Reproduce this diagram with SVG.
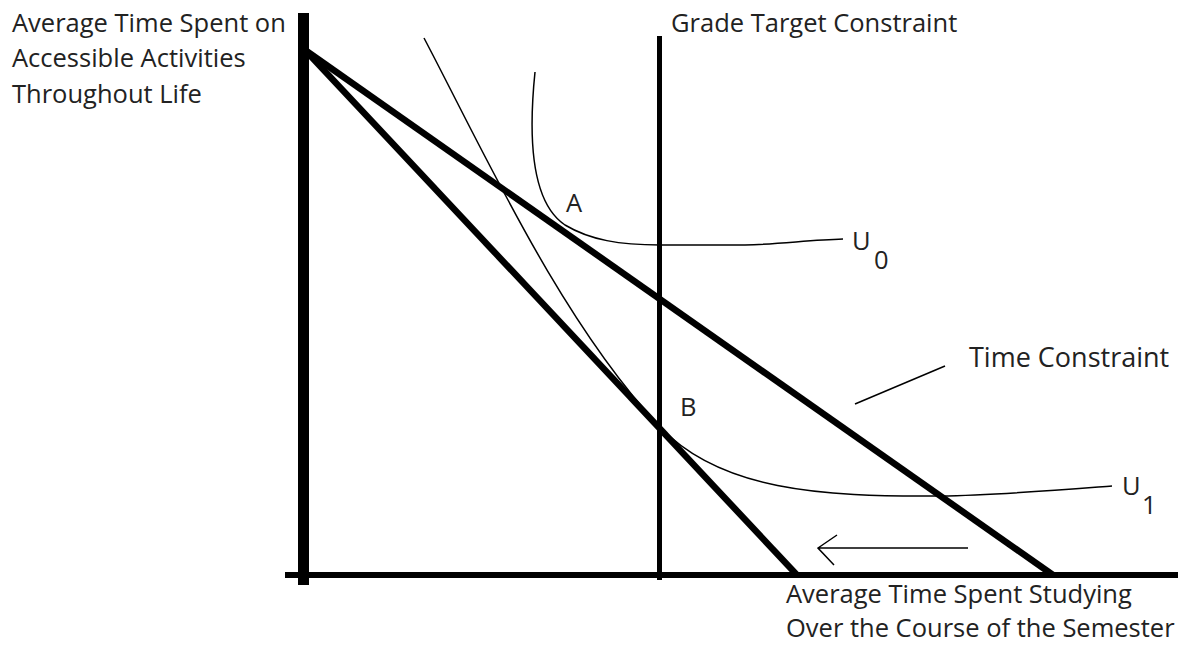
<svg xmlns="http://www.w3.org/2000/svg" width="1178" height="645" viewBox="0 0 1178 645">
<style>
.lbl{font-family:"Open Sans","Noto Sans",sans-serif;font-size:25.5px;fill:#222}
.thick{stroke:#000;stroke-width:6.5;fill:none;stroke-linecap:butt}
.thin{stroke:#000;stroke-width:1.5;fill:none}
</style>
<rect width="1178" height="645" fill="#fff"/>
<g id="axes">
<rect x="298" y="13" width="11" height="572" fill="#000"/>
<rect x="285" y="572" width="893" height="6" fill="#000"/>
</g>
<g id="grade-target-constraint">
<rect x="657" y="36" width="5" height="544" fill="#000"/>
<text class="lbl" x="671" y="32">Grade Target Constraint</text>
</g>
<g id="connectors">
<line id="time-constraint-0" class="thick" x1="305" y1="50" x2="1053" y2="575"/>
<line id="time-constraint-1" class="thick" x1="305" y1="50" x2="797" y2="575"/>
<line class="thin" x1="855" y1="404" x2="945" y2="366"/>
<path class="thin" d="M968,548 L818,548 M837,535 L818,548 L834,565"/>
</g>
<g id="u0">
<path class="thin" d="M535,72 C527,150 535,205 565,225 C590,240 620,245 660,245 L745,245 C780,244 810,240 843,239"/>
<text class="lbl" x="852" y="250">U</text>
<text class="lbl" x="874" y="269">0</text>
</g>
<g id="u1">
<path class="thin" d="M424,38 C484,152 560,320 660,427 C720,490 820,497 940,496 C1000,495 1060,490 1112,486"/>
<text class="lbl" x="1122" y="495">U</text>
<text class="lbl" x="1142" y="514">1</text>
</g>
<g id="point-a"><text class="lbl" x="566" y="212">A</text></g>
<g id="point-b"><text class="lbl" x="680" y="416">B</text></g>
<g id="y-label">
<text class="lbl" x="12" y="32">Average Time Spent on</text>
<text class="lbl" x="12" y="67">Accessible Activities</text>
<text class="lbl" x="12" y="103">Throughout Life</text>
</g>
<g id="x-label">
<text class="lbl" x="786" y="603">Average Time Spent Studying</text>
<text class="lbl" x="786" y="637">Over the Course of the Semester</text>
</g>
<g id="time-constraint-label"><text class="lbl" x="969" y="367" style="font-size:27px">Time Constraint</text></g>
</svg>
